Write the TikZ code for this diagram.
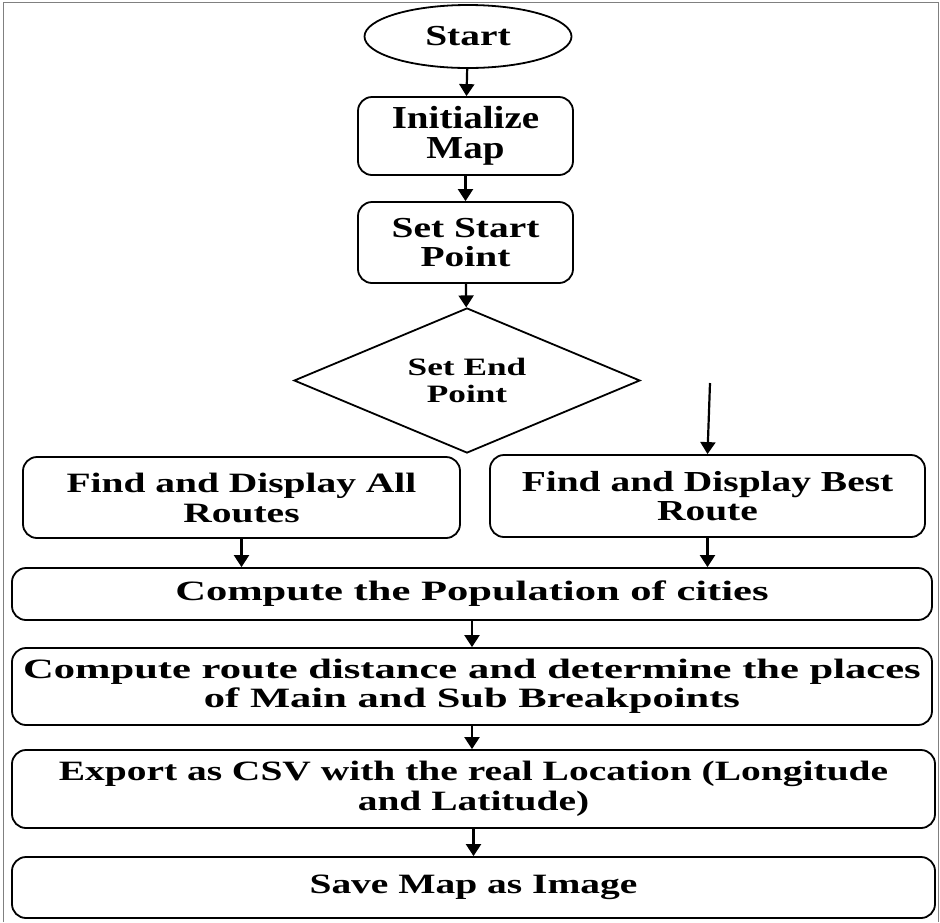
\documentclass[tikz,border=0pt]{standalone}
\usepackage{fontspec}
\setmainfont{Liberation Serif}
\newfontfamily\flowfont{Liberation Serif}[FakeStretch=1.41]
\newfontfamily\widefont{Liberation Serif}[FakeStretch=1.52]
\newfontfamily\tallfont{Liberation Serif}[FakeStretch=1.36]
\newfontfamily\initfont{Liberation Serif}[FakeStretch=1.22]
\usetikzlibrary{shapes.geometric,arrows.meta}

\begin{document}
\begin{tikzpicture}[x=1pt, y=-1pt, >={Triangle[width=15pt,length=12pt]},
  every node/.style={align=center, font=\flowfont\bfseries\fontsize{28}{30}\selectfont},
  stepbox/.style={draw, line width=1.8pt, rounded corners=14pt, inner sep=0pt},
  widetext/.style={font=\widefont\bfseries\fontsize{28}{29}\selectfont},
  talltext/.style={font=\tallfont\bfseries\fontsize{29}{29.5}\selectfont},
  inittext/.style={font=\initfont\bfseries\fontsize{32}{30}\selectfont},
  smalltext/.style={font=\flowfont\bfseries\fontsize{25}{27}\selectfont},
  flow/.style={->, line width=2.2pt}]
\useasboundingbox (0,0) rectangle (940,922);
% outer frame
\draw[gray, line width=1pt] (3,922) -- (3,2) -- (938,2) -- (938,922);

\node[draw, ellipse, line width=1.8pt, inner sep=0pt, talltext, minimum width=207pt, minimum height=63pt] (start) at (468,36.5) {Start};
\node[stepbox, inittext, minimum width=215pt, minimum height=78pt] (init) at (465.5,136) {Initialize\\Map};
\node[stepbox, talltext, minimum width=215pt, minimum height=81pt] (setstart) at (465.5,242.5) {Set Start\\Point};
\node[draw, diamond, aspect=2.4, line width=1.8pt, inner sep=0pt, smalltext, minimum width=346pt, minimum height=145pt] (setend) at (467,380.5) {Set End\\Point};
\node[stepbox, minimum width=437pt, minimum height=81pt] (allroutes) at (241.5,497.5) {Find and Display All\\Routes};
\node[stepbox, talltext, minimum width=435pt, minimum height=82pt] (bestroute) at (707.5,496) {Find and Display Best\\Route};
\node[stepbox, widetext, minimum width=920pt, minimum height=52pt] (population) at (472,594) {Compute the Population of cities};
\node[stepbox, widetext, minimum width=920pt, minimum height=77pt] (distance) at (472,686.5) {Compute route distance and determine the places\\of Main and Sub Breakpoints};
\node[stepbox, minimum width=923pt, minimum height=78pt] (export) at (473.5,789) {Export as CSV with the real Location (Longitude\\and Latitude)};
\node[stepbox, minimum width=923pt, minimum height=61pt] (savemap) at (473.5,887.5) {Save Map as Image};

% connectors
\draw[flow] (start) -- (init);
\draw[flow] (init) -- (setstart);
\draw[flow] (setstart) -- (setend);
\coordinate (bestin) at (710,383);
\draw[flow] (bestin) -- (bestroute.north);
\draw[flow] (allroutes.south) -- (allroutes.south |- population.north);
\draw[flow] (bestroute.south) -- (bestroute.south |- population.north);
\draw[flow] (population) -- (distance);
\draw[flow] (distance.south) -- (distance.south |- export.north);
\draw[flow] (export) -- (savemap);
\end{tikzpicture}
\end{document}
